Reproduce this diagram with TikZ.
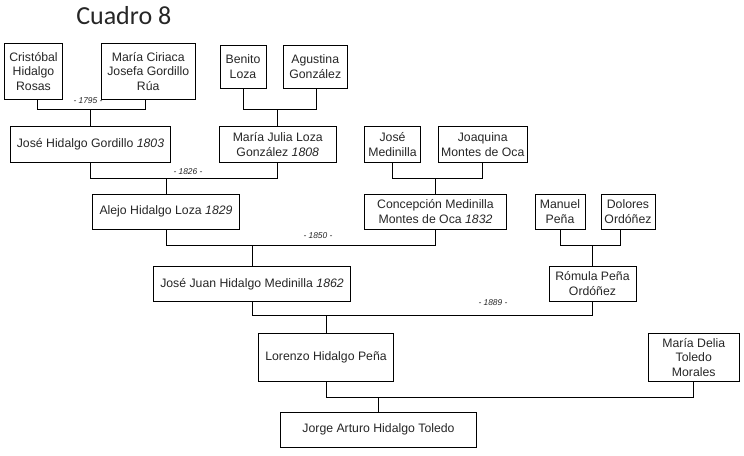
\documentclass[tikz,border=0pt]{standalone}
\usepackage{fontspec}
\setmainfont{Liberation Sans}
\newfontfamily\titlefont{Carlito}
\begin{document}
\begin{tikzpicture}[x=0.75pt,y=-0.75pt,
  pbox/.style 2 args={draw=black,line width=0.75pt,inner sep=0pt,align=center,
    minimum width=#1*0.75pt,minimum height=#2*0.75pt,
    font=\fontsize{9.2}{10.9}\selectfont,text=black!85},
  yearlbl/.style={inner sep=0pt,font=\fontsize{6.3}{7}\selectfont\itshape,text=black!85},
  link/.style={draw=black,line width=0.75pt}]
\useasboundingbox (0,0) rectangle (744,455);

\node[anchor=base west,inner sep=0pt,font=\titlefont\fontsize{19.5}{22}\selectfont,text=black!85] (title) at (76,24) {Cuadro 8};

% generation 1
\node[pbox={58}{55.5}] (cris) at (33.5,71.25) {Cristóbal\\Hidalgo\\Rosas};
\node[pbox={93.5}{55.5}] (maci) at (148.25,71.25) {María Ciriaca\\Josefa Gordillo\\Rúa};
\node[pbox={46}{43.5}] (beni) at (243,66.75) {Benito\\Loza};
\node[pbox={64.5}{43.5}] (agus) at (315.25,66.75) {Agustina\\González};

% generation 2
\node[pbox={159.5}{36}] (jhg) at (90.5,144.5) {José Hidalgo Gordillo \textit{1803}};
\node[pbox={116.5}{36}] (mjl) at (277.75,144.5) {María Julia Loza\\González \textit{1808}};
\node[pbox={56}{36}] (jmed) at (392.5,144.5) {José\\Medinilla};
\node[pbox={89.5}{36}] (joaq) at (482.75,144.5) {Joaquina\\Montes de Oca};

% generation 3
\node[pbox={147}{34.5}] (alejo) at (166,211.75) {Alejo Hidalgo Loza \textit{1829}};
\node[pbox={141.5}{34.5}] (conc) at (435.5,211.75) {Concepción Medinilla\\Montes de Oca \textit{1832}};
\node[pbox={50}{34.5}] (manu) at (560,211.75) {Manuel\\Peña};
\node[pbox={54}{34.5}] (dolo) at (628,211.75) {Dolores\\Ordóñez};

% generation 4
\node[pbox={197}{34.5}] (jjh) at (252,283.75) {José Juan Hidalgo Medinilla \textit{1862}};
\node[pbox={87}{34.5}] (romu) at (592.5,283.75) {Rómula Peña\\Ordóñez};

% generation 5
\node[pbox={135.5}{47.5}] (lore) at (326,357.25) {Lorenzo Hidalgo Peña};
\node[pbox={90.5}{47.5}] (mdel) at (693.75,357.25) {María Delia\\Toledo\\Morales};

% generation 6
\node[pbox={196.5}{35.5}] (jorge) at (378.5,429.75) {Jorge Arturo Hidalgo Toledo};

% levels of the horizontal bars
\coordinate (lv1) at (0,109.3);
\coordinate (lv2) at (0,178.3);
\coordinate (lv3) at (0,245.8);
\coordinate (lv4) at (0,315);
\coordinate (lv5) at (0,397.3);

% connectors
\draw[link] ([xshift=2.8pt]cris.south) -- ([xshift=2.8pt]cris.south |- lv1) -- ([xshift=-1.7pt]maci.south |- lv1) -- ([xshift=-1.7pt]maci.south);
\draw[link] (jhg.north) -- (jhg.north |- lv1);

\draw[link] (beni.south) -- (beni.south |- lv1) -- ([xshift=1pt]agus.south |- lv1) -- ([xshift=1pt]agus.south);
\draw[link] (mjl.north) -- (mjl.north |- lv1);

\draw[link] (jmed.south) -- (jmed.south |- lv2) -- (joaq.south |- lv2) -- (joaq.south);
\draw[link] (conc.north) -- (conc.north |- lv2);

\draw[link] (jhg.south) -- (jhg.south |- lv2) -- (mjl.south |- lv2) -- (mjl.south);
\draw[link] (alejo.north) -- (alejo.north |- lv2);

\draw[link] (alejo.south) -- (alejo.south |- lv3) -- (conc.south |- lv3) -- (conc.south);
\draw[link] (jjh.north) -- (jjh.north |- lv3);

\draw[link] (manu.south) -- (manu.south |- lv3) -- ([xshift=-6pt]dolo.south |- lv3) -- ([xshift=-6pt]dolo.south);
\draw[link] (romu.north) -- (romu.north |- lv3);

\draw[link] (jjh.south) -- (jjh.south |- lv4) -- (romu.south |- lv4) -- (romu.south);
\draw[link] (lore.north) -- (lore.north |- lv4);

\draw[link] (lore.south) -- (lore.south |- lv5) -- (mdel.south |- lv5) -- (mdel.south);
\draw[link] (jorge.north) -- (jorge.north |- lv5);

% marriage years
\node[yearlbl] (y1795) at (88,100.5) {- 1795 -};
\node[yearlbl] (y1826) at (188,171.5) {- 1826 -};
\node[yearlbl] (y1850) at (318,236) {- 1850 -};
\node[yearlbl] (y1889) at (493,303) {- 1889 -};
\end{tikzpicture}
\end{document}
